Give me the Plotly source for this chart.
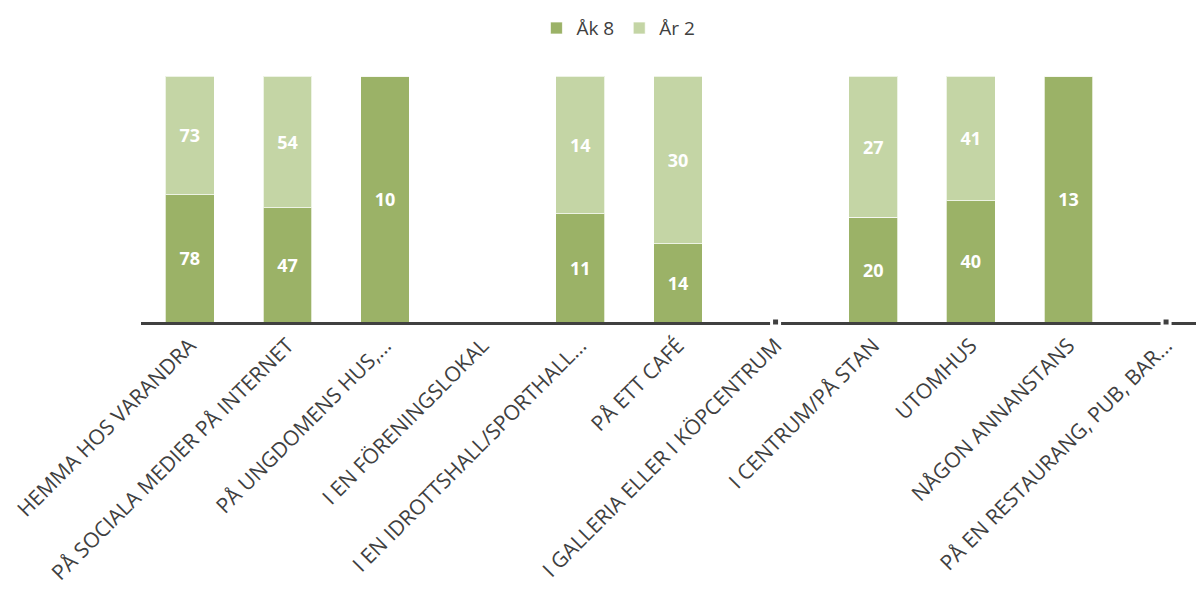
import plotly.graph_objects as go

categories = [
    "HEMMA HOS VARANDRA",
    "PÅ SOCIALA MEDIER PÅ INTERNET",
    "PÅ UNGDOMENS HUS,...",
    "I EN FÖRENINGSLOKAL",
    "I EN IDROTTSHALL/SPORTHALL...",
    "PÅ ETT CAFÉ",
    "I GALLERIA ELLER I KÖPCENTRUM",
    "I CENTRUM/PÅ STAN",
    "UTOMHUS",
    "NÅGON ANNANSTANS",
    "PÅ EN RESTAURANG, PUB, BAR...",
]
ak8 = [78, 47, 10, 0, 11, 14, 0, 20, 40, 13, 0]
ar2 = [73, 54, 0, 0, 14, 30, 0, 27, 41, 0, 0]
break_cats = ["I GALLERIA ELLER I KÖPCENTRUM", "PÅ EN RESTAURANG, PUB, BAR..."]

dark = "#9BB267"
light = "#C4D5A5"
txtcol = "#404040"

fig = go.Figure()
for name, vals, col in [("Åk 8", ak8, dark), ("År 2", ar2, light)]:
    fig.add_trace(go.Bar(
        name=name, x=categories, y=vals,
        marker=dict(color=col, line=dict(color="rgba(255,255,255,0.7)", width=1)),
        text=[str(v) if v else "" for v in vals],
        textposition="inside", insidetextanchor="middle",
        textfont=dict(family="Open Sans", size=18, color="white", weight="bold"),
        hoverinfo="skip",
    ))

fig.add_trace(go.Scatter(
    x=break_cats, y=[0] * len(break_cats), mode="markers",
    marker=dict(symbol="square", size=8, color=txtcol, line=dict(color="white", width=3)),
    showlegend=False, cliponaxis=False, hoverinfo="skip",
))

fig.update_layout(
    barmode="stack", barnorm="percent", bargap=0.5,
    width=1204, height=593,
    margin=dict(l=133, r=2, t=68, b=279, autoexpand=False),
    paper_bgcolor="white", plot_bgcolor="white",
    font=dict(family="Open Sans", color=txtcol),
    legend=dict(orientation="h", xref="container", yref="container",
                x=0.507, y=0.966, xanchor="center", yanchor="middle",
                font=dict(size=19, color=txtcol), traceorder="normal",
                itemwidth=30),
    showlegend=True,
)
fig.update_xaxes(
    range=[-0.5, 10.45], tickangle=-45, showline=True, linecolor=txtcol, linewidth=3,
    ticks="", tickfont=dict(family="Open Sans", size=21, color=txtcol),
    showgrid=False, zeroline=False, automargin=False, layer="below traces",
)
fig.update_yaxes(range=[0, 100], visible=False, showgrid=False, zeroline=False)

fig.write_html("out.html")
